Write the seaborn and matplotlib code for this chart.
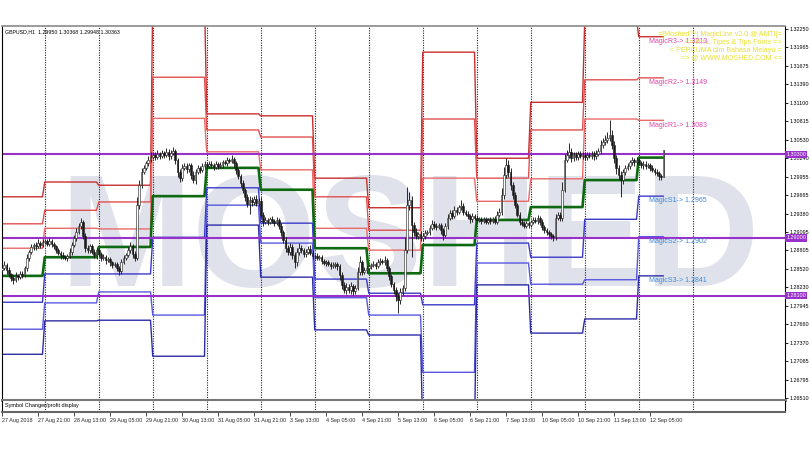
import numpy as np
import pandas as pd
import matplotlib
matplotlib.use("Agg")
import matplotlib.pyplot as plt
import seaborn as sns

sns.set_style("white")
plt.rcParams['font.family'] = ['Liberation Sans', 'DejaVu Sans']

# ---------------- data (GBPUSD H1) ----------------
first_open = 1.2850

# closes per trading day (bar 0 = 27 Aug 05:00)
close_27aug = [1.2853, 1.2858, 1.2850, 1.2844, 1.2838, 1.2835, 1.2841, 1.2839, 1.2844, 1.2842,
               1.2853, 1.2869, 1.2878, 1.2886, 1.2889, 1.2887, 1.2892, 1.2889, 1.2894]
close_28aug = [1.2895, 1.2891, 1.2895, 1.2891, 1.2887, 1.2881, 1.2877, 1.2873, 1.2870, 1.2869, 1.2872, 1.2878,
               1.2889, 1.2900, 1.2909, 1.2919, 1.2925, 1.2903, 1.2884, 1.2881, 1.2887, 1.2878, 1.2873, 1.2881]
close_29aug = [1.2875, 1.2869, 1.2870, 1.2866, 1.2867, 1.2862, 1.2858, 1.2859, 1.2853, 1.2848, 1.2862, 1.2869,
               1.2873, 1.2881, 1.2887, 1.2875, 1.2869, 1.2951, 1.2982, 1.3003, 1.3009, 1.3016, 1.3021, 1.3026]
close_30aug = [1.3029, 1.3026, 1.3031, 1.3027, 1.3032, 1.3029, 1.3034, 1.3027, 1.3032, 1.3035, 1.3021, 1.3003,
               1.2993, 1.3009, 1.3012, 1.3007, 1.3013, 1.2998, 1.2990, 1.3003, 1.3009, 1.3006, 1.3012, 1.3015]
close_31aug = [1.3012, 1.3015, 1.3013, 1.3010, 1.3015, 1.3012, 1.3013, 1.3018, 1.3016, 1.3021, 1.3020, 1.3023,
               1.3016, 1.3006, 1.2996, 1.2985, 1.2975, 1.2964, 1.2953, 1.2959, 1.2956, 1.2961, 1.2954, 1.2957]
close_03sep = [1.2936, 1.2925, 1.2928, 1.2925, 1.2929, 1.2926, 1.2923, 1.2928, 1.2919, 1.2909, 1.2897, 1.2884,
               1.2878, 1.2886, 1.2873, 1.2862, 1.2878, 1.2884, 1.2881, 1.2875, 1.2878, 1.2883, 1.2877, 1.2872]
close_04sep = [1.2872, 1.2869, 1.2870, 1.2864, 1.2861, 1.2862, 1.2859, 1.2856, 1.2858, 1.2859, 1.2856, 1.2842,
               1.2827, 1.2819, 1.2824, 1.2819, 1.2825, 1.2817, 1.2822, 1.2847, 1.2862, 1.2847, 1.2850, 1.2853]
close_05sep = [1.2856, 1.2858, 1.2859, 1.2856, 1.2862, 1.2864, 1.2862, 1.2866, 1.2853, 1.2841, 1.2828, 1.2819,
               1.2810, 1.2803, 1.2816, 1.2822, 1.2881, 1.2951, 1.2959, 1.2920, 1.2909, 1.2903, 1.2906, 1.2900]
close_06sep = [1.2903, 1.2908, 1.2909, 1.2915, 1.2922, 1.2919, 1.2917, 1.2920, 1.2912, 1.2905, 1.2919, 1.2931,
               1.2939, 1.2934, 1.2943, 1.2940, 1.2948, 1.2950, 1.2940, 1.2937, 1.2934, 1.2929, 1.2934, 1.2931]
close_07sep = [1.2928, 1.2929, 1.2926, 1.2929, 1.2925, 1.2928, 1.2926, 1.2929, 1.2925, 1.2936, 1.2940, 1.2967,
               1.2998, 1.3013, 1.3003, 1.2982, 1.2967, 1.2951, 1.2936, 1.2925, 1.2922, 1.2919, 1.2923, 1.2920]
close_10sep = [1.2925, 1.2928, 1.2926, 1.2931, 1.2925, 1.2917, 1.2912, 1.2909, 1.2906, 1.2903, 1.2901, 1.2931,
               1.2936, 1.2931, 1.2975, 1.3021, 1.3029, 1.3034, 1.3024, 1.3029, 1.3026, 1.3031, 1.3027, 1.3029]
close_11sep = [1.3026, 1.3029, 1.3027, 1.3031, 1.3027, 1.3031, 1.3035, 1.3045, 1.3049, 1.3052, 1.3055, 1.3060,
               1.3045, 1.3024, 1.3009, 1.2998, 1.2990, 1.3003, 1.3009, 1.3012, 1.3018, 1.3021, 1.3018, 1.3021]
close_12sep = [1.3016, 1.3013, 1.3015, 1.3012, 1.3013, 1.3009, 1.3006, 1.3003, 1.3001, 1.2996, 1.2995, 1.30363]

# wick lengths in pips above / below the candle body
upper_wick = [4, 6, 3, 5, 2, 4, 6, 3, 5, 4, 3, 6, 4, 5, 3, 4, 6, 3, 5,
              4, 3, 5, 4, 3, 2, 4, 3, 5, 4, 3, 6, 5, 4, 6, 5, 6, 3, 4, 5, 3, 4, 5, 3,
              4, 3, 5, 3, 4, 3, 2, 4, 3, 4, 6, 5, 4, 5, 6, 4, 5, 12, 8, 6, 5, 4, 6, 7,
              5, 4, 6, 3, 5, 4, 6, 4, 5, 7, 3, 4, 5, 6, 4, 5, 3, 4, 6, 5, 4, 3, 5, 4,
              3, 4, 5, 3, 4, 3, 5, 4, 3, 5, 4, 6, 3, 4, 3, 4, 5, 3, 4, 6, 5, 4, 6, 5,
              6, 4, 5, 3, 4, 5, 3, 4, 3, 4, 3, 4, 5, 6, 4, 5, 6, 8, 5, 4, 5, 4, 6, 5,
              3, 4, 3, 4, 3, 4, 3, 4, 5, 4, 3, 4, 5, 4, 6, 5, 6, 4, 5, 8, 10, 4, 5, 3,
              4, 3, 5, 4, 6, 5, 4, 6, 3, 4, 3, 4, 5, 4, 6, 5, 20, 28, 12, 6, 5, 6, 4, 5,
              4, 5, 4, 5, 6, 4, 5, 4, 3, 4, 5, 6, 4, 5, 6, 5, 4, 9, 5, 4, 5, 4, 5, 4,
              4, 3, 4, 3, 4, 3, 4, 3, 5, 6, 7, 10, 12, 11, 8, 6, 5, 4, 3, 4, 5, 4, 3, 4,
              3, 4, 5, 4, 3, 4, 3, 4, 3, 4, 3, 6, 5, 4, 12, 10, 8, 14, 6, 5, 4, 5, 4, 5,
              4, 5, 4, 5, 4, 6, 5, 7, 6, 8, 10, 23, 8, 6, 5, 4, 6, 5, 4, 5, 4, 5, 4, 5,
              4, 3, 4, 5, 4, 3, 4, 3, 4, 3, 4, 0.5]
lower_wick = [5, 3, 6, 4, 5, 6, 4, 5, 3, 4, 3, 4, 5, 3, 4, 5, 3, 4, 3,
              3, 4, 3, 5, 4, 5, 4, 6, 3, 4, 5, 3, 4, 3, 4, 3, 5, 4, 6, 4, 5, 3, 4, 5,
              4, 5, 3, 6, 4, 5, 4, 3, 5, 5, 4, 3, 4, 3, 4, 6, 5, 4, 6, 5, 4, 3, 4, 3,
              3, 4, 3, 4, 3, 4, 3, 5, 4, 3, 6, 8, 6, 5, 4, 6, 5, 7, 5, 6, 4, 5, 3, 4,
              4, 3, 4, 5, 3, 4, 3, 4, 3, 4, 3, 4, 5, 6, 5, 6, 5, 6, 5, 15, 6, 5, 4, 5,
              5, 6, 4, 5, 4, 3, 4, 3, 5, 6, 5, 6, 5, 4, 6, 8, 6, 5, 4, 5, 4, 3, 4, 5,
              4, 3, 4, 5, 3, 4, 3, 4, 3, 5, 6, 7, 6, 5, 6, 5, 6, 5, 4, 3, 5, 4, 3, 4,
              3, 4, 3, 4, 3, 4, 3, 4, 5, 6, 5, 6, 8, 19, 6, 5, 4, 5, 8, 50, 6, 4, 5, 4,
              5, 4, 3, 4, 3, 5, 4, 3, 6, 8, 4, 5, 3, 4, 3, 4, 3, 4, 5, 3, 4, 5, 4, 3,
              4, 3, 4, 3, 4, 3, 4, 3, 4, 3, 4, 5, 6, 5, 8, 7, 6, 5, 4, 5, 4, 3, 4, 5,
              3, 4, 3, 4, 5, 4, 5, 4, 6, 5, 5, 4, 3, 4, 5, 4, 3, 4, 6, 4, 5, 4, 3, 4,
              5, 4, 3, 4, 5, 4, 3, 4, 5, 4, 5, 4, 6, 8, 10, 7, 26, 6, 5, 4, 5, 4, 6, 5,
              3, 4, 5, 4, 3, 5, 4, 5, 4, 6, 5, 0.2]

# MagicLine daily pivot levels (27 Aug ... 12 Sep)
day_bars = [19, 24, 24, 24, 24, 24, 24, 24, 24, 24, 24, 24, 12]
r3 = [1.2964, 1.2987, 1.2982, 1.3272, 1.3093, 1.3090, 1.2993, 1.2947, 1.3189, 1.3024, 1.3111, 1.3240, 1.3213]
r2 = [1.2922, 1.2943, 1.2956, 1.3150, 1.3068, 1.3057, 1.2964, 1.2912, 1.3085, 1.2993, 1.3068, 1.3146, 1.3149]
r1 = [1.2884, 1.2915, 1.2914, 1.3086, 1.3034, 1.3006, 1.2915, 1.2881, 1.2993, 1.2957, 1.2992, 1.3085, 1.3083]
pp = [1.2841, 1.2870, 1.2886, 1.2965, 1.3009, 1.2975, 1.2884, 1.2845, 1.2889, 1.2928, 1.2948, 1.2990, 1.3025]
s1 = [1.2800, 1.2844, 1.2844, 1.2901, 1.2978, 1.2923, 1.2836, 1.2814, 1.2796, 1.2892, 1.2870, 1.2929, 1.2965]
s2 = [1.2758, 1.2799, 1.2816, 1.2780, 1.2951, 1.2892, 1.2807, 1.2780, 1.2691, 1.2861, 1.2828, 1.2835, 1.2902]
s3 = [1.2719, 1.2771, 1.2772, 1.2716, 1.2920, 1.2839, 1.2757, 1.2749, 1.2598, 1.2827, 1.2752, 1.2774, 1.2841]

# horizontal levels drawn by hand on the chart
h_levels = [1.30300, 1.29000, 1.28100]

# axis labels
yticks = [1.32250, 1.31965, 1.31675, 1.31390, 1.31100, 1.30815, 1.30530, 1.30240, 1.29955, 1.29665, 1.29380,
          1.29095, 1.28805, 1.28520, 1.28230, 1.27945, 1.27660, 1.27370, 1.27085, 1.26795, 1.26510]
xtick_labels = ["27 Aug 2018", "27 Aug 21:00", "28 Aug 13:00", "29 Aug 05:00", "29 Aug 21:00", "30 Aug 13:00",
                "31 Aug 05:00", "31 Aug 21:00", "3 Sep 13:00", "4 Sep 05:00", "4 Sep 21:00", "5 Sep 13:00",
                "6 Sep 05:00", "6 Sep 21:00", "7 Sep 13:00", "10 Sep 05:00", "10 Sep 21:00", "11 Sep 13:00",
                "12 Sep 05:00"]
info_lines = ["=[Moshed\u2122] MagicLine v2.0 @ AMTI]=",
              "<= Ilmu, Tipes & Tips Forex =>",
              "= PERCUMA dlm Bahasa Melayu =",
              "=> @ WWW.MOSHED.COM <="]

# ---------------- build frames ----------------
closes = np.array(close_27aug + close_28aug + close_29aug + close_30aug + close_31aug + close_03sep +
                  close_04sep + close_05sep + close_06sep + close_07sep + close_10sep + close_11sep + close_12sep)
bars = np.arange(len(closes))
opens = np.r_[first_open, closes[:-1]]
highs = np.maximum(opens, closes) + np.array(upper_wick) / 10000
lows = np.minimum(opens, closes) - np.array(lower_wick) / 10000

levels = pd.DataFrame({'bar': bars,
                       'R3': np.repeat(r3, day_bars), 'R2': np.repeat(r2, day_bars),
                       'R1': np.repeat(r1, day_bars), 'P': np.repeat(pp, day_bars),
                       'S1': np.repeat(s1, day_bars), 'S2': np.repeat(s2, day_bars),
                       'S3': np.repeat(s3, day_bars)})
# separators at every new trading day (plus the next, still empty, day)
day_starts = list(np.cumsum(day_bars)[:-1]) + [int(np.sum(day_bars)) + 12]

# ---------------- figure ----------------
fig = plt.figure(figsize=(8.1, 4.5), dpi=100)
ax = fig.add_axes([2 / 810, 50 / 450, 783 / 810, 374 / 450])
sub = fig.add_axes([2 / 810, 38 / 450, 783 / 810, 12 / 450])

xmax = 348
ax.set_xlim(0, xmax)
ax.set_ylim(1.26479, 1.32297)
sub.set_xlim(0, xmax)
sub.set_ylim(0, 1)

# watermark
ax.text(410 / 810, 1 - 286 / 450, "MOSHED", transform=fig.transFigure, fontsize=115, fontweight='bold',
        color='#dfe2eb', ha='center', va='baseline', zorder=0.5, family='Liberation Sans')

# day separators
for a in (ax, sub):
    for b in day_starts:
        a.axvline(b, color='#222222', lw=0.8, ls=(0, (1, 1.2)), zorder=1)

# pivot lines
line_styles = {'R3': ('#c92f2f', 1.0), 'R2': ('#e05050', 1.0), 'R1': ('#ea6a6a', 1.0),
               'P': ('#0e6a10', 1.9),
               'S1': ('#3a3ac8', 1.0), 'S2': ('#5858e0', 1.0), 'S3': ('#2c2ca6', 1.0)}
for col, (c, lw) in line_styles.items():
    sns.lineplot(data=levels, x='bar', y=col, color=c, lw=lw, ax=ax, zorder=2, legend=False)

# horizontal level lines with price tags on the scale
for lv in h_levels:
    ax.axhline(lv, color='#9a30cc', lw=1.5, zorder=2.2)
    ax.text(1.0015, lv, f"{lv:.5f}", transform=ax.get_yaxis_transform(), ha='left', va='center',
            fontsize=3.9, color='white', zorder=6, clip_on=False,
            bbox=dict(boxstyle='square,pad=0.2', fc='#9a30cc', ec='none'))

# candles
up = closes >= opens
ax.vlines(bars, lows, highs, color='#1a1a1a', lw=0.65, zorder=4)
ax.bar(bars[up], np.maximum(closes[up] - opens[up], 0.00003), bottom=opens[up], width=0.7,
       color='white', edgecolor='#1a1a1a', lw=0.4, zorder=5)
ax.bar(bars[~up], opens[~up] - closes[~up], bottom=closes[~up], width=0.7,
       color='#1a1a1a', edgecolor='#1a1a1a', lw=0.4, zorder=5)

# MagicLine labels
for name, val in [('R3', r3[-1]), ('R2', r2[-1]), ('R1', r1[-1])]:
    ax.text(287.5, val - 0.0002, f"Magic{name}-> {val:.4f}", fontsize=5, color='#dd44aa', va='top', zorder=6)
for name, val in [('S1', s1[-1]), ('S2', s2[-1]), ('S3', s3[-1])]:
    ax.text(287.5, val - 0.0002, f"Magic{name}-> {val:.4f}", fontsize=5, color='#3a8ad8', va='top', zorder=6)

# info text block (top right)
for i, t in enumerate(info_lines):
    ax.text(0.996, 1 - (9 + i * 7.7) / 374, t, transform=ax.transAxes, ha='right', va='center',
            fontsize=5, color='#e8e030', zorder=6)

ax.text(0.004, 0.992, "GBPUSD,H1  1.29950 1.30368 1.29948 1.30363", transform=ax.transAxes,
        ha='left', va='top', fontsize=3.8, color='black', zorder=6)

# axes styling
ax.set_xlabel('')
ax.set_ylabel('')
ax.set_xticks([])
ax.yaxis.tick_right()
ax.set_yticks(yticks)
ax.set_yticklabels([f"{v:.5f}" for v in yticks])
ax.tick_params(axis='y', labelsize=3.9, length=2, width=0.6, pad=1, colors='black', right=True)
for s in ['left', 'right']:
    ax.spines[s].set_color('black')
    ax.spines[s].set_linewidth(0.8)
ax.spines['top'].set_color('#8a8a8a')
ax.spines['top'].set_linewidth(1.2)
ax.spines['bottom'].set_color('#777777')
ax.spines['bottom'].set_linewidth(2)

sub.set_yticks([])
sub.set_xticks(np.arange(0, 16 * len(xtick_labels), 16))
sub.set_xticklabels(xtick_labels, ha='left')
sub.tick_params(axis='x', labelsize=3.9, length=3, width=0.6, pad=1, direction='out', bottom=True)
for s in ['left', 'right']:
    sub.spines[s].set_color('black')
    sub.spines[s].set_linewidth(0.8)
sub.spines['top'].set_color('#777777')
sub.spines['top'].set_linewidth(1.5)
sub.spines['bottom'].set_color('#666666')
sub.spines['bottom'].set_linewidth(1.5)
sub.text(0.004, 0.5, "Symbol Changer/profit display", transform=sub.transAxes, ha='left', va='center',
         fontsize=4.0, color='black')

fig.savefig("out.png", dpi=100)
